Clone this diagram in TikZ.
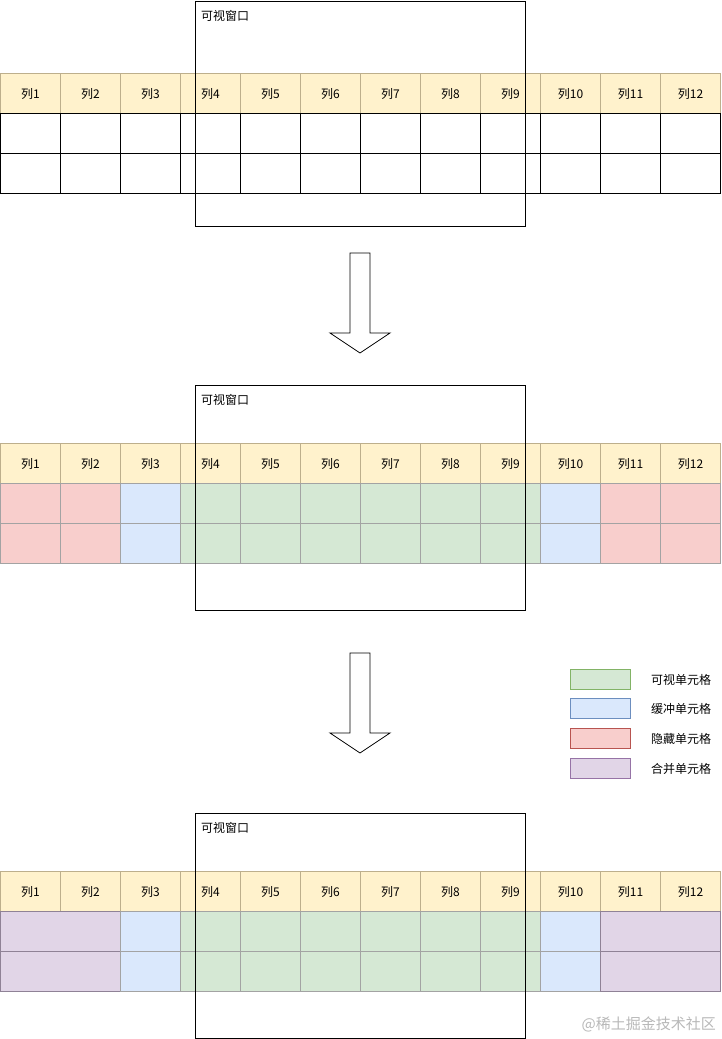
\documentclass[tikz,border=0pt]{standalone}
\usepackage{fontspec}
\setmainfont{Noto Sans CJK SC}
\usetikzlibrary{positioning}
\definecolor{hdrfill}{HTML}{FFF2CC}
\definecolor{hdrline}{HTML}{BDAF8C}
\definecolor{visfill}{HTML}{D5E8D4}
\definecolor{visline}{HTML}{82B366}
\definecolor{buffill}{HTML}{DAE8FC}
\definecolor{bufline}{HTML}{6C8EBF}
\definecolor{hidfill}{HTML}{F8CECC}
\definecolor{hidline}{HTML}{B85450}
\definecolor{mrgfill}{HTML}{E1D5E7}
\definecolor{mrgline}{HTML}{9673A6}
\definecolor{cellgray}{HTML}{A3A3A3}
\definecolor{mrggray}{HTML}{8F8296}
\definecolor{markgray}{HTML}{B8B8B8}

\tikzset{
  cell/.style={draw, line width=1pt, minimum width=60pt, minimum height=40pt,
    inner sep=0pt, anchor=north west, font=\fontsize{12}{14}\selectfont},
  hdr/.style={cell, fill=hdrfill, draw=hdrline},
  blank/.style={cell, draw=black},
  vis/.style={cell, fill=visfill, draw=cellgray},
  buf/.style={cell, fill=buffill, draw=cellgray},
  hid/.style={cell, fill=hidfill, draw=cellgray},
  mrg/.style={cell, fill=mrgfill, draw=mrggray, minimum width=120pt},
  window/.style={draw=black, line width=1pt, minimum width=330pt,
    minimum height=225pt, inner sep=0pt, anchor=north west},
  winlabel/.style={anchor=west, inner sep=0pt, font=\fontsize{12}{14}\selectfont},
  keybox/.style={draw, line width=1pt, minimum width=60pt, minimum height=20pt,
    inner sep=0pt, anchor=north west},
  keytext/.style={right=20pt of #1, inner sep=0pt, font=\fontsize{12}{14}\selectfont},
  bigarrow/.style={draw=black, fill=white, line width=0.8pt, line join=miter}
}

\begin{document}
\begin{tikzpicture}[x=1pt, y=-1pt]
  \useasboundingbox (0,0) rectangle (721,1039);

  % first table: empty cells
  \foreach \i in {1,...,12}
    \node[hdr] (hA\i) at ({60*(\i-1)},73) {列\i};
  \foreach \r in {1,2}
    \foreach \i in {1,...,12}
      \node[blank] (cA\r-\i) at ({60*(\i-1)},{73+40*\r}) {};
  \node[window] (winA) at (195,1) {};
  \node[winlabel] at ([xshift=6pt, yshift=-15pt]winA.north west) {可视窗口};

  \draw[bigarrow] (350,253) -- (370,253) -- (370,333) -- (390,333)
    -- (360,353) -- (330,333) -- (350,333) -- cycle;

  % second table: visible / buffer / hidden
  \foreach \i in {1,...,12}
    \node[hdr] (hB\i) at ({60*(\i-1)},443) {列\i};
  \foreach \r in {1,2}
    \foreach \i/\kind in {1/hid,2/hid,3/buf,4/vis,5/vis,6/vis,7/vis,8/vis,9/vis,10/buf,11/hid,12/hid}
      \node[\kind] (cB\r-\i) at ({60*(\i-1)},{443+40*\r}) {};
  \node[window] (winB) at (195,385) {};
  \node[winlabel] at ([xshift=6pt, yshift=-15pt]winB.north west) {可视窗口};

  \draw[bigarrow] (350,653) -- (370,653) -- (370,733) -- (390,733)
    -- (360,753) -- (330,733) -- (350,733) -- cycle;

  % legend
  \node[keybox, fill=visfill, draw=visline] (kvis) at (570,669) {};
  \node[keybox, fill=buffill, draw=bufline] (kbuf) at (570,698) {};
  \node[keybox, fill=hidfill, draw=hidline] (khid) at (570,728) {};
  \node[keybox, fill=mrgfill, draw=mrgline] (kmrg) at (570,758) {};
  \node[keytext=kvis] {可视单元格};
  \node[keytext=kbuf] {缓冲单元格};
  \node[keytext=khid] {隐藏单元格};
  \node[keytext=kmrg] {合并单元格};

  % third table: merged hidden cells
  \foreach \i in {1,...,12}
    \node[hdr] (hC\i) at ({60*(\i-1)},871) {列\i};
  \foreach \r in {1,2} {
    \node[mrg] (cC\r-1) at (0,{871+40*\r}) {};
    \foreach \i/\kind in {3/buf,4/vis,5/vis,6/vis,7/vis,8/vis,9/vis,10/buf}
      \node[\kind] (cC\r-\i) at ({60*(\i-1)},{871+40*\r}) {};
    \node[mrg] (cC\r-11) at (600,{871+40*\r}) {};
  }
  \node[window] (winC) at (195,813) {};
  \node[winlabel] at ([xshift=6pt, yshift=-15pt]winC.north west) {可视窗口};

  \node[anchor=east, inner sep=0pt, text=markgray, font=\fontsize{15}{17}\selectfont]
    (mark) at (716,1024) {@稀土掘金技术社区};
\end{tikzpicture}
\end{document}
